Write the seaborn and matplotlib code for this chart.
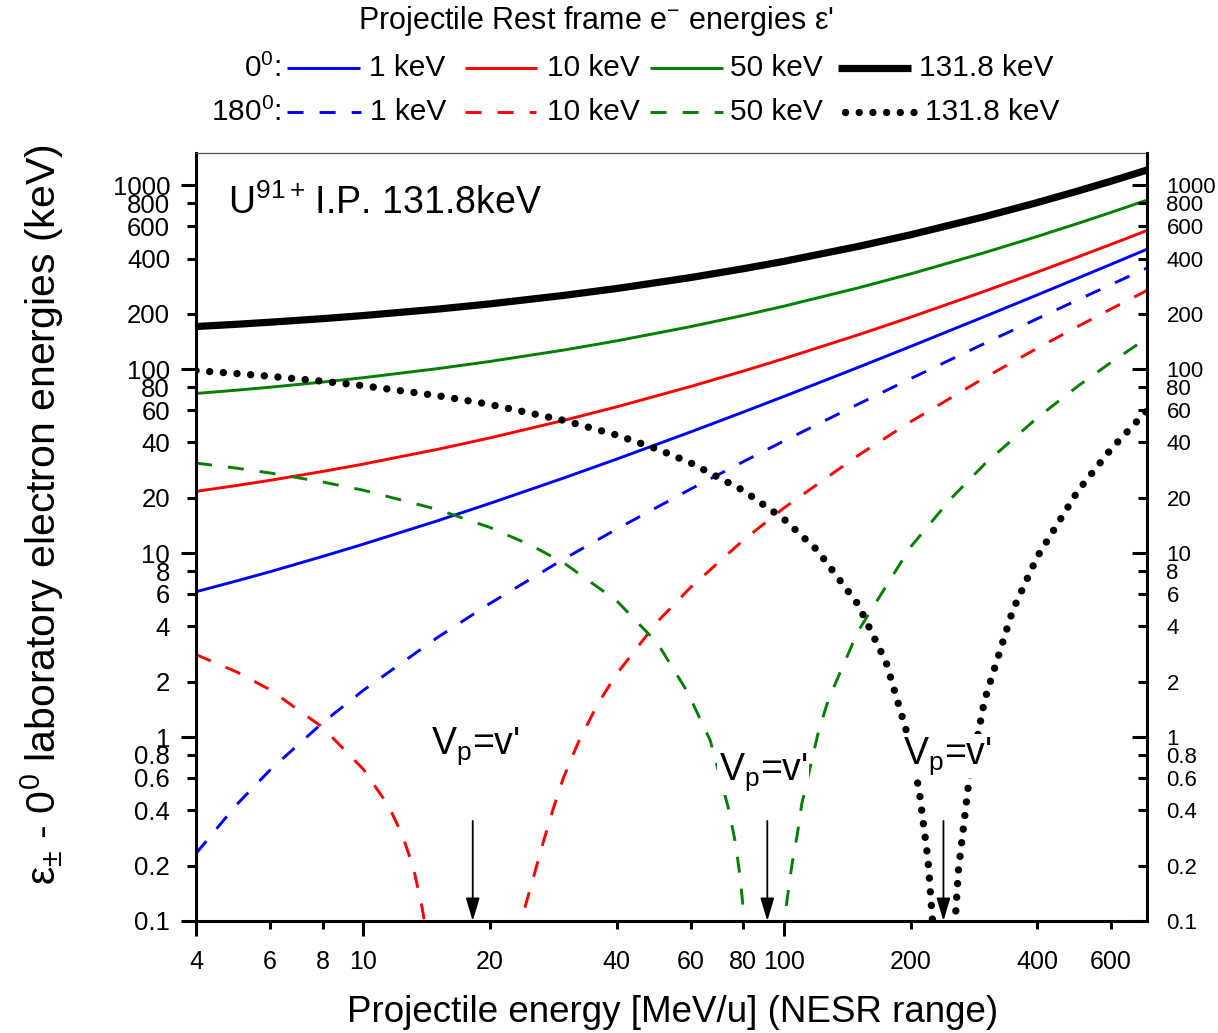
import matplotlib
matplotlib.use("Agg")
import matplotlib.pyplot as plt
import seaborn as sns
from matplotlib.lines import Line2D
from matplotlib.ticker import FixedLocator, FuncFormatter

# Datos
# -----------------------------------------------------------------------
# energia del proyectil (MeV/u) para las curvas a 0 grados
e_0deg = [4, 5, 6, 8, 10, 15, 20, 30, 40, 60, 80, 100, 150, 200, 300, 400, 500, 600, 730]

fwd_1kev = [6.17, 7.07, 7.93, 9.60, 11.2, 15.0, 18.66, 25.67, 32.46, 45.64, 58.51, 71.18,
            102.3, 133.0, 193.6, 253.5, 313.2, 372.5, 449.5]
fwd_10kev = [21.68, 23.34, 24.90, 27.82, 30.52, 36.69, 42.35, 52.77, 62.46, 80.60, 97.74,
             114.3, 153.8, 191.9, 265.7, 337.5, 408.2, 478.2, 568.4]
fwd_50kev = [73.9, 77.0, 79.9, 85.2, 90.0, 100.8, 110.3, 127.3, 142.7, 170.6, 196.2, 220.4,
             276.9, 330.1, 430.9, 527.4, 621.3, 713.5, 831.6]
fwd_131kev = [170.8, 175.7, 180.3, 188.5, 196.0, 212.4, 226.8, 252.3, 274.9, 315.4, 352.1,
              386.3, 465.4, 538.7, 676.1, 806.1, 931.9, 1054.8, 1211.5]

# 180 grados
bwd_1kev = [0.233, 0.430, 0.662, 1.197, 1.797, 3.48, 5.33, 9.31, 13.51, 22.32, 31.43, 40.75,
            64.57, 88.88, 138.2, 188.2, 238.5, 289.1, 355.0]

e_bwd_10kev = [4, 5, 6, 8, 10, 11.5, 12.4, 13.15, 13.8, 14.4, 18.2, 22.8, 24.0, 25.4, 26.8,
               28.3, 29.9, 32.4, 36, 40, 50, 60, 80, 100, 150, 200, 300, 400, 500, 600, 730]
bwd_10kev = [2.81, 2.26, 1.81, 1.13, 0.668, 0.42, 0.29, 0.195, 0.118, 0.065, 0.002, 0.06, 0.11,
             0.174, 0.27, 0.41, 0.60, 0.93, 1.5, 2.2, 4.24, 6.52, 11.75, 17.61, 33.97, 51.81,
             89.95, 130.0, 171.1, 213.0, 268.3]

e_bwd_50kev = [4, 5, 6, 8, 10, 15, 20, 25, 30, 40, 50, 58.8, 66.8, 73.8, 76.6, 78.7, 80.1, 81.5,
               91.1, 99.5, 100.7, 104.4, 107.7, 110.3, 120.8, 127.6, 150, 200, 250, 300, 400,
               500, 600, 730]
bwd_50kev = [30.9, 29.0, 27.3, 24.4, 22.0, 17.3, 13.8, 11.06, 8.84, 5.52, 3.25, 1.78, 0.96, 0.41,
             0.27, 0.173, 0.114, 0.07, 0.002, 0.08, 0.11, 0.2, 0.3, 0.435, 1.07, 1.6, 3.76, 10.8,
             19.9, 30.5, 54.4, 81.0, 109.2, 147.7]

e_bwd_131kev = [4, 5, 6, 8, 10, 15, 20, 30, 40, 50, 60, 80, 100, 120, 150, 175, 200, 210, 220,
                230, 240, 250, 260, 275, 300, 350, 400, 500, 600, 730]
bwd_131kev = [98.4, 94.8, 91.6, 86.1, 81.4, 71.9, 64.4, 52.7, 43.9, 36.8, 31.0, 21.95, 15.33,
              10.39, 5.27, 2.55, 0.905, 0.498, 0.218, 0.0545, 0.001, 0.047, 0.189, 0.566, 1.589,
              4.89, 9.53, 21.8, 36.9, 59.6]

# posiciones de V_p = v' (cuspides) y etiquetas
cusp_e = [18.2, 91.3, 239.5]
label_e = [14.5, 69.9, 192.4]
label_v = [0.814, 0.583, 0.718]

x_major = [4, 10, 100]
x_minor = [6, 8, 20, 40, 60, 80, 200, 400, 600]
y_major = [0.1, 1, 10, 100, 1000]
y_minor = [0.2, 0.4, 0.6, 0.8, 2, 4, 6, 8, 20, 40, 60, 80, 200, 400, 600, 800]

energies_label = ["1 keV", "10 keV", "50 keV", "131.8 keV"]
colors = ["#0000ff", "#ff0000", "#008000", "black"]

# Estilo
# -----------------------------------------------------------------------
sns.set_style("ticks")
plt.rcParams['font.family'] = ['Liberation Sans', 'DejaVu Sans']
plt.rcParams['mathtext.fontset'] = 'custom'
plt.rcParams['mathtext.rm'] = 'Liberation Sans'
plt.rcParams['mathtext.it'] = 'Liberation Sans:italic'
plt.rcParams['mathtext.bf'] = 'Liberation Sans:bold'
plt.rcParams['text.color'] = 'black'
plt.rcParams['axes.labelcolor'] = 'black'
plt.rcParams['xtick.color'] = 'black'
plt.rcParams['ytick.color'] = 'black'

W, H = 1218, 1033
fig = plt.figure(figsize=(W / 100, H / 100), dpi=100)
ax = fig.add_axes([196 / W, 1 - 921 / H, (1147 - 196) / W, (921 - 153) / H])
ax.set_xscale('log')
ax.set_yscale('log')

DASH = (0, (5.5, 5.5))
DOT = (0, (0.01, 1.85))
LW = 2.1

curvas = [
    (e_0deg, fwd_1kev, colors[0], LW, '-', 'butt'),
    (e_0deg, fwd_10kev, colors[1], LW, '-', 'butt'),
    (e_0deg, fwd_50kev, colors[2], LW, '-', 'butt'),
    (e_0deg, fwd_131kev, colors[3], 5.2, '-', 'butt'),
    (e_0deg, bwd_1kev, colors[0], LW, DASH, 'butt'),
    (e_bwd_10kev, bwd_10kev, colors[1], LW, DASH, 'butt'),
    (e_bwd_50kev, bwd_50kev, colors[2], LW, DASH, 'butt'),
    (e_bwd_131kev, bwd_131kev, colors[3], 5.3, DOT, 'round'),
]
for xs, ys, c, lw, ls, cap in curvas:
    sns.lineplot(x=xs, y=ys, ax=ax, color=c, linewidth=lw, linestyle=ls,
                 dash_capstyle=cap, estimator=None, sort=False, legend=False)

ax.set_xlim(4, 730)
ax.set_ylim(0.1, 1500)

# flechas y etiquetas V_p = v'
for e in cusp_e:
    ax.annotate("", xy=(e, 0.1), xytext=(e, 0.35),
                arrowprops=dict(arrowstyle="-|>,head_length=1.0,head_width=0.3",
                                mutation_scale=14, color='k', lw=1.3,
                                shrinkA=0, shrinkB=0), zorder=6)
for e, v in zip(label_e, label_v):
    ax.text(e, v, r"V$_{\mathregular{p}}$=v'", fontsize=27, ha='left', va='baseline',
            bbox=dict(fc='white', ec='none', pad=1), zorder=5)

ax.text(0.0336, 0.9206, r"U$^{\mathregular{91+}}\,$I.P. 131.8keV", transform=ax.transAxes,
        fontsize=27, ha='left', va='baseline')

# Ejes
fmt = FuncFormatter(lambda v, p: f"{v:g}")
ax.xaxis.set_major_locator(FixedLocator(x_major))
ax.xaxis.set_minor_locator(FixedLocator(x_minor))
ax.xaxis.set_major_formatter(fmt)
ax.xaxis.set_minor_formatter(fmt)
ax.yaxis.set_major_locator(FixedLocator(y_major))
ax.yaxis.set_minor_locator(FixedLocator(y_minor))
ax.yaxis.set_major_formatter(fmt)
ax.yaxis.set_minor_formatter(fmt)

ax.tick_params(axis='x', which='major', direction='out', length=10.8, width=2.2,
               pad=10, labelsize=18, colors='black')
ax.tick_params(axis='x', which='minor', direction='out', length=6.1, width=2.2,
               pad=14.7, labelsize=18, colors='black')
ax.tick_params(axis='y', which='major', direction='out', length=10.8, width=2.2,
               pad=7.9, labelsize=18.5, left=True, right=False, colors='black')
ax.tick_params(axis='y', which='minor', direction='out', length=6.3, width=2.2,
               pad=12.4, labelsize=18.5, left=True, right=False, colors='black')
ax.tick_params(top=False, which='both')

for s in ['left', 'bottom']:
    ax.spines[s].set_linewidth(2.2)
    ax.spines[s].set_color('black')
ax.spines['top'].set_linewidth(0.9)
ax.spines['top'].set_color('#555555')
ax.spines['right'].set_visible(False)

ax2 = ax.twinx()
ax2.set_yscale('log')
ax2.set_ylim(ax.get_ylim())
ax2.yaxis.set_major_locator(FixedLocator(y_major))
ax2.yaxis.set_minor_locator(FixedLocator(y_minor))
ax2.yaxis.set_major_formatter(fmt)
ax2.yaxis.set_minor_formatter(fmt)
ax2.tick_params(axis='y', which='major', direction='in', length=10.8, width=2.2,
                pad=14, labelsize=16, colors='black')
ax2.tick_params(axis='y', which='minor', direction='in', length=6.3, width=2.2,
                pad=14, labelsize=16, colors='black')
for s in ['left', 'top', 'bottom']:
    ax2.spines[s].set_visible(False)
ax2.spines['right'].set_linewidth(2.2)
ax2.spines['right'].set_color('black')
ax2.grid(False)

ax.set_xlabel("Projectile energy [MeV/u] (NESR range)", fontsize=26.5, color='black')
ax.xaxis.set_label_coords(0.501, -0.0964)
ax.set_ylabel(r"ε$_{\pm}$ - 0$^{\mathregular{0}}$ laboratory electron energies (keV)",
              fontsize=29.5, color='black')
ax.yaxis.set_label_coords(-0.137, 0.529)

# Leyenda manual arriba
def fx(p):
    return p / W


def fy(p):
    return 1 - p / H


fig.text(fx(596), fy(21), r"Projectile Rest frame e$^{-}$ energies ε'", fontsize=22,
         ha='center', va='center')

row_y = [68, 112]
row_lab = [r"0$^{\mathregular{0}}$:", r"180$^{\mathregular{0}}$:"]
line_x = [[(287, 360), (465, 537), (650, 723), (838, 911)],
          [(287, 361), (465, 536), (650, 723), (845, 915)]]
text_x = [[369, 547, 730, 919], [370, 547, 730, 925]]
row_styles = [[('-', LW, 'butt')] * 3 + [('-', 5.2, 'butt')],
              [(DASH, LW, 'butt')] * 3 + [(DOT, 5.3, 'round')]]

for r in range(2):
    fig.text(fx(281), fy(row_y[r]), row_lab[r], fontsize=21.5, ha='right', va='center')
    for i in range(4):
        x0, x1 = line_x[r][i]
        ls, lw, cap = row_styles[r][i]
        fig.add_artist(Line2D([fx(x0), fx(x1)], [fy(row_y[r])] * 2, color=colors[i],
                              lw=lw, linestyle=ls, dash_capstyle=cap,
                              solid_capstyle='butt'))
        fig.text(fx(text_x[r][i]), fy(row_y[r]), energies_label[i], fontsize=21.5,
                 ha='left', va='center')

fig.savefig("out.png", dpi=100)
